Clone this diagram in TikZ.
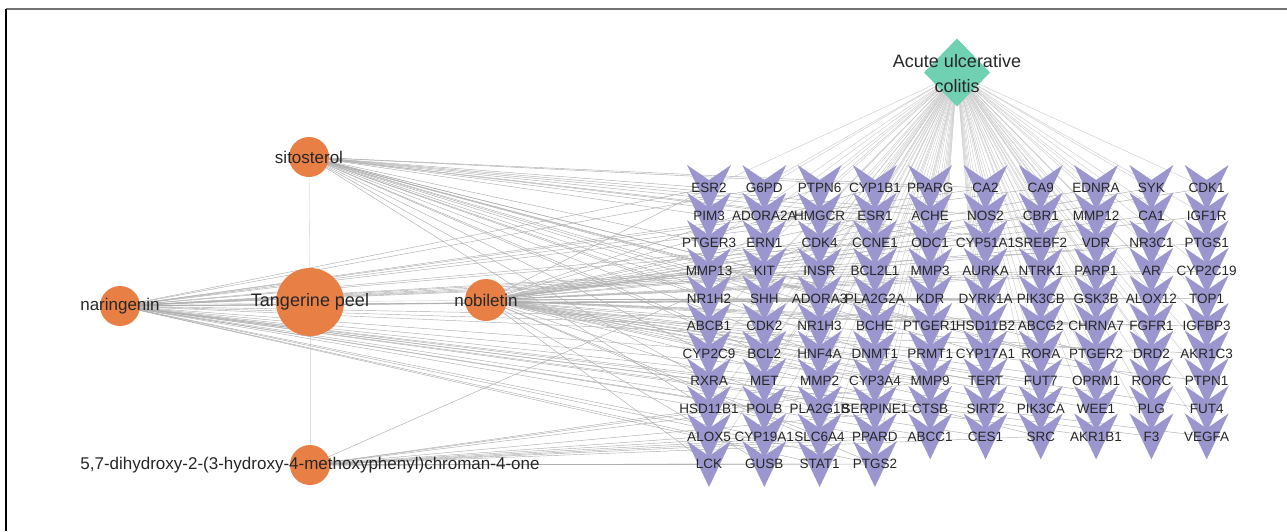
\documentclass[tikz,border=0pt]{standalone}
\usepackage{fontspec}
\setmainfont{Liberation Sans}
\usetikzlibrary{positioning}
\pgfdeclarelayer{edges}
\pgfdeclarelayer{marks}
\pgfsetlayers{edges,marks,main}
\definecolor{peel}{RGB}{232,128,70}
\definecolor{lav}{RGB}{155,151,206}
\definecolor{mint}{RGB}{112,208,178}

\begin{document}
\begin{tikzpicture}[x=1pt,y=-1pt,
  cpd/.style={circle,fill=peel,inner sep=0,minimum size=40},
  every label/.style={font=\fontsize{17}{20}\selectfont,text=black!85},
  target/.style={inner sep=0,font=\fontsize{13.5}{15}\selectfont,text=black!85},
  vee/.style={fill=lav},
  dedge/.style={draw=black!20,line width=0.45},
  cedge/.style={draw=black!32,line width=0.45},
  hedge/.style={draw=black!13,line width=0.6}]
\useasboundingbox (0,0) rectangle (1287,531);
\draw[black!55,line width=1.3] (6,9) -- (1287,9);
\draw[black,line width=1.3] (6,9) -- (6,531);

% herb and compounds
\node[cpd,minimum size=68] (peel) at (310,302) [label={[font=\fontsize{18}{20}\selectfont]center:Tangerine peel}] {};
\node[cpd] (sito) at (309,157) [label=center:sitosterol] {};
\node[cpd] (nar)  at (120,306) [label=center:naringenin] {};
\node[cpd,minimum size=42] (nob)  at (486,300) [label=center:nobiletin] {};
\node[cpd] (dhm)  at (310,465) [label=center:{5,7-dihydroxy-2-(3-hydroxy-4-methoxyphenyl)chroman-4-one}] {};

% disease
\node[align=center,font=\fontsize{18}{25}\selectfont,text=black!85] (ulc) at (957,74) {Acute ulcerative\\colitis};
\begin{pgfonlayer}{marks}
\fill[mint] (957,72.5) ++(0,-34) -- ++(33,34) -- ++(-33,34) -- ++(-33,-34) -- cycle;
\end{pgfonlayer}

% targets
\foreach \row [count=\j from 0] in {
  {ESR2,G6PD,PTPN6,CYP1B1,PPARG,CA2,CA9,EDNRA,SYK,CDK1},
  {PIM3,ADORA2A,HMGCR,ESR1,ACHE,NOS2,CBR1,MMP12,CA1,IGF1R},
  {PTGER3,ERN1,CDK4,CCNE1,ODC1,CYP51A1,SREBF2,VDR,NR3C1,PTGS1},
  {MMP13,KIT,INSR,BCL2L1,MMP3,AURKA,NTRK1,PARP1,AR,CYP2C19},
  {NR1H2,SHH,ADORA3,PLA2G2A,KDR,DYRK1A,PIK3CB,GSK3B,ALOX12,TOP1},
  {ABCB1,CDK2,NR1H3,BCHE,PTGER1,HSD11B2,ABCG2,CHRNA7,FGFR1,IGFBP3},
  {CYP2C9,BCL2,HNF4A,DNMT1,PRMT1,CYP17A1,RORA,PTGER2,DRD2,AKR1C3},
  {RXRA,MET,MMP2,CYP3A4,MMP9,TERT,FUT7,OPRM1,RORC,PTPN1},
  {HSD11B1,POLB,PLA2G1B,SERPINE1,CTSB,SIRT2,PIK3CA,WEE1,PLG,FUT4},
  {ALOX5,CYP19A1,SLC6A4,PPARD,ABCC1,CES1,SRC,AKR1B1,F3,VEGFA},
  {LCK,GUSB,STAT1,PTGS2}}
  \foreach \g [count=\i from 0] in \row {
    \node[target] (\g) at ({709+55.3*\i},{188+27.6*\j}) {\g};
    \begin{pgfonlayer}{marks}
    \fill[vee] (\g.center) ++(-22,-23) -- ++(22,15) -- ++(22,-15) -- ++(-22,46) -- cycle;
    \end{pgfonlayer}
    \begin{pgfonlayer}{edges}
    \path[dedge] (ulc.center) -- (\g.center);
    \end{pgfonlayer}
  };

\begin{pgfonlayer}{edges}
\path[hedge] (peel.center) edge (sito.center) edge (nar.center)
  edge (nob.center) edge (dhm.center);
\foreach \t in {ESR2,PTGER3,NR1H2,NR1H3,ABCB1,CYP2C9,RXRA,HSD11B1,PIM3,HMGCR,
  ESR1,PPARG,ACHE,CA2,NOS2,CYP51A1,SREBF2,BCL2,HNF4A,CYP17A1,RORA,RORC,
  PTGER2,PLA2G2A,PTGER1,BCHE,SHH,DNMT1}
  \path[cedge] (sito.center) -- (\t.center);
\foreach \t in {ESR2,G6PD,ADORA2A,ESR1,CDK4,CCNE1,KIT,INSR,BCL2L1,MMP3,AURKA,
  KDR,CDK2,BCL2,MMP2,MMP9,MET,POLB,SERPINE1,CTSB,CYP19A1,PPARD,STAT1,PTGS2,
  CA2,CA9,ALOX5,PIK3CB,GSK3B,ALOX12,TOP1,IGFBP3,AKR1C3,ABCC1,CES1,AKR1B1,
  F3,VEGFA,PTGS1}
  \path[cedge] (nar.center) -- (\t.center);
\foreach \t in {PTPN6,CYP1B1,EDNRA,SYK,CDK1,CBR1,MMP12,CA1,IGF1R,ODC1,VDR,
  NR3C1,MMP13,NTRK1,PARP1,AR,CYP2C19,ADORA3,DYRK1A,ABCG2,CHRNA7,FGFR1,PRMT1,
  DRD2,CYP3A4,TERT,FUT7,OPRM1,PTPN1,PLA2G1B,SIRT2,PIK3CA,WEE1,PLG,FUT4,
  SLC6A4,SRC,LCK,GUSB,HSD11B2,ERN1,ESR2,ESR1,CDK2,PTGS2,MMP9,KDR,GSK3B}
  \path[cedge] (nob.center) -- (\t.center);
\foreach \t in {LCK,GUSB,STAT1,PTGS2,ALOX5,CYP19A1,SLC6A4,PPARD,HSD11B1,
  POLB,ESR1,MMP9,CTSB,ABCC1,SRC}
  \path[cedge] (dhm.center) -- (\t.center);
\end{pgfonlayer}
\end{tikzpicture}
\end{document}
